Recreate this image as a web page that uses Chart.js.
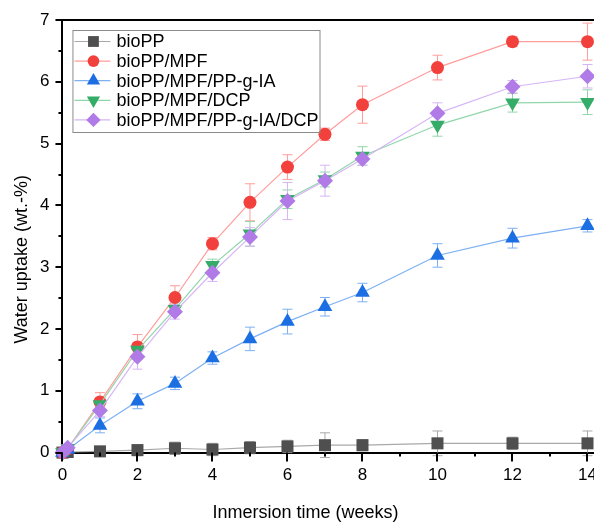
<!DOCTYPE html>
<html>
<head>
<meta charset="utf-8">
<script src="https://cdn.jsdelivr.net/npm/chart.js"></script>
<style>
  html, body { margin: 0; padding: 0; background: #fff; }
  #wrap { width: 594px; height: 522px; overflow: hidden; position: relative; }
  canvas { display: block; }
</style>
</head>
<body>
<div id="wrap"><canvas id="chart" width="640" height="522"></canvas></div>
<script>
// immersion time in weeks (second point = 1 day)
const weeks = [0, 0.14, 1, 2, 3, 4, 5, 6, 7, 8, 10, 12, 14];

const seriesNames = ['bioPP', 'bioPP/MPF', 'bioPP/MPF/PP-g-IA', 'bioPP/MPF/DCP', 'bioPP/MPF/PP-g-IA/DCP'];

const bioPP       = [0, 0.01, 0.02, 0.04, 0.07, 0.05, 0.08, 0.10, 0.12, 0.12, 0.15, 0.15, 0.15];
const bioPPErr    = [0, 0.03, 0.08, 0.09, 0.10, 0.10, 0.10, 0.10, 0.20, 0.09, 0.20, 0.10, 0.20];
const mpf         = [0, 0.06, 0.82, 1.71, 2.51, 3.38, 4.05, 4.62, 5.15, 5.63, 6.23, 6.65, 6.65];
const mpfErr      = [0, 0.05, 0.15, 0.20, 0.19, 0.10, 0.30, 0.20, 0.10, 0.30, 0.20, 0.08, 0.30];
const mpfIA       = [0, 0.05, 0.44, 0.83, 1.12, 1.53, 1.84, 2.12, 2.36, 2.59, 3.19, 3.47, 3.67];
const mpfIAErr    = [0, 0.05, 0.12, 0.12, 0.10, 0.10, 0.19, 0.20, 0.15, 0.15, 0.19, 0.16, 0.10];
const mpfDCP      = [0, 0.07, 0.78, 1.66, 2.32, 3.03, 3.54, 4.10, 4.42, 4.80, 5.30, 5.66, 5.67];
const mpfDCPErr   = [0, 0.05, 0.10, 0.10, 0.08, 0.10, 0.20, 0.15, 0.12, 0.15, 0.18, 0.15, 0.20];
const mpfIADCP    = [0, 0.08, 0.68, 1.55, 2.28, 2.91, 3.49, 4.07, 4.40, 4.75, 5.49, 5.92, 6.09];
const mpfIADCPErr = [0, 0.05, 0.10, 0.20, 0.12, 0.14, 0.15, 0.30, 0.25, 0.10, 0.17, 0.10, 0.19];

const values = [bioPP, mpf, mpfIA, mpfDCP, mpfIADCP];
const errors = [bioPPErr, mpfErr, mpfIAErr, mpfDCPErr, mpfIADCPErr];

// marker colour, line colour, point style, rotation, radius
const looks = [
  { fill: '#4f4f4f', line: '#a9a9a9', style: 'rect',     rot: 0,   r: 8.5 },
  { fill: '#f2403c', line: '#ff9d9b', style: 'circle',   rot: 0,   r: 6.5 },
  { fill: '#1b6fe3', line: '#7db0f2', style: 'triangle', rot: 0,   r: 8.5 },
  { fill: '#35ad69', line: '#90d6a9', style: 'triangle', rot: 180, r: 8.5 },
  { fill: '#b07be6', line: '#d6b5f6', style: 'rectRot',  rot: 0,   r: 8 }
];

const FONT = 'Liberation Sans, Arial, sans-serif';

const datasets = seriesNames.map((name, i) => ({
  label: name,
  data: weeks.map((w, k) => ({ x: w, y: values[i][k] })),
  errors: errors[i],
  borderColor: looks[i].line,
  backgroundColor: looks[i].fill,
  borderWidth: 1.2,
  pointStyle: looks[i].style,
  rotation: looks[i].rot,
  pointRadius: looks[i].r,
  pointBorderWidth: 0,
  pointBackgroundColor: looks[i].fill,
  pointBorderColor: looks[i].fill,
  tension: 0,
  clip: false,
  order: 5 - i
}));

// vertical error bars, drawn under the markers
const errorBars = {
  id: 'errorBars',
  beforeDatasetsDraw(chart) {
    const ctx = chart.ctx, ys = chart.scales.y;
    ctx.save();
    chart.data.datasets.forEach((ds, i) => {
      const meta = chart.getDatasetMeta(i);
      ctx.strokeStyle = ds.borderColor;
      ctx.lineWidth = 1;
      meta.data.forEach((pt, k) => {
        const e = ds.errors[k];
        if (!e) return;
        const v = ds.data[k].y;
        const top = ys.getPixelForValue(v + e), bot = ys.getPixelForValue(v - e);
        ctx.beginPath();
        ctx.moveTo(pt.x, top); ctx.lineTo(pt.x, bot);
        ctx.moveTo(pt.x - 5, top); ctx.lineTo(pt.x + 5, top);
        ctx.moveTo(pt.x - 5, bot); ctx.lineTo(pt.x + 5, bot);
        ctx.stroke();
      });
    });
    ctx.restore();
  }
};

function marker(ctx, look, x, y) {
  const r = look.r;
  ctx.fillStyle = look.fill;
  ctx.beginPath();
  if (look.style === 'rect') {
    const s = r * Math.SQRT1_2;
    ctx.rect(x - s, y - s, 2 * s, 2 * s);
  } else if (look.style === 'circle') {
    ctx.arc(x, y, r, 0, Math.PI * 2);
  } else if (look.style === 'rectRot') {
    ctx.moveTo(x, y - r); ctx.lineTo(x + r, y); ctx.lineTo(x, y + r); ctx.lineTo(x - r, y);
  } else {
    const d = look.rot ? -1 : 1, h = r * Math.sqrt(3) / 2;
    ctx.moveTo(x, y - d * r);
    ctx.lineTo(x + h, y + d * r / 2);
    ctx.lineTo(x - h, y + d * r / 2);
  }
  ctx.closePath();
  ctx.fill();
}

// frame, ticks, titles and the boxed legend
const frame = {
  id: 'frame',
  afterDraw(chart) {
    const ctx = chart.ctx, a = chart.chartArea;
    const xs = chart.scales.x, ys = chart.scales.y;
    ctx.save();
    ctx.strokeStyle = '#000';
    ctx.lineWidth = 2;
    ctx.beginPath();
    ctx.moveTo(a.left - 1, a.top); ctx.lineTo(a.right + 1, a.top);
    ctx.stroke();

    for (let v = 0; v <= 7; v += 0.5) {
      const py = Math.round(ys.getPixelForValue(v));
      const len = v % 1 === 0 ? 6 : 3;
      ctx.beginPath();
      ctx.moveTo(a.left - len - 1, py); ctx.lineTo(a.left, py);
      ctx.stroke();
    }
    for (let v = 0; v <= 15; v += 1) {
      const px = Math.round(xs.getPixelForValue(v));
      const len = v % 2 === 0 ? 8 : 3;
      ctx.beginPath();
      ctx.moveTo(px, a.bottom); ctx.lineTo(px, a.bottom + len + 1);
      ctx.stroke();
    }

    ctx.fillStyle = '#000';
    ctx.font = '18px ' + FONT;
    ctx.textAlign = 'center';
    ctx.textBaseline = 'middle';
    ctx.fillText('Inmersion time (weeks)', a.left + 243, a.bottom + 60);
    ctx.save();
    ctx.translate(22, (a.top + a.bottom) / 2 + 23);
    ctx.rotate(-Math.PI / 2);
    ctx.fillText('Water uptake (wt.-%)', 0, 0);
    ctx.restore();

    // legend
    const bx = a.left + 10, by = a.top + 10, rowH = 19.6;
    ctx.font = '18px ' + FONT;
    let tw = 0;
    seriesNames.forEach(n => { tw = Math.max(tw, ctx.measureText(n).width); });
    ctx.strokeStyle = '#8a8a8a';
    ctx.lineWidth = 1;
    ctx.strokeRect(bx + 0.5, by + 0.5, 44 + tw + 1, 102);
    ctx.textAlign = 'left';
    seriesNames.forEach((n, i) => {
      const cy = by + 11.5 + i * rowH;
      ctx.strokeStyle = looks[i].line;
      ctx.lineWidth = 1.2;
      ctx.beginPath();
      ctx.moveTo(bx + 2, cy); ctx.lineTo(bx + 38, cy);
      ctx.stroke();
      marker(ctx, Object.assign({}, looks[i], { r: looks[i].r * 0.9 }), bx + 21, cy);
      ctx.fillStyle = '#000';
      ctx.fillText(n, bx + 44, cy + 1);
    });
    ctx.restore();
  }
};

new Chart(document.getElementById('chart'), {
  type: 'line',
  data: { datasets },
  plugins: [errorBars, frame],
  options: {
    responsive: false,
    animation: false,
    devicePixelRatio: 1,
    layout: { padding: { left: 34, right: 15, top: 20, bottom: 30 } },
    plugins: { legend: { display: false }, tooltip: { enabled: false } },
    scales: {
      x: {
        type: 'linear',
        min: 0, max: 15,
        grid: { drawOnChartArea: false, tickLength: 7, tickColor: 'transparent' },
        border: { display: true, color: '#000', width: 2 },
        ticks: {
          stepSize: 2, includeBounds: false, padding: 6,
          color: '#000', font: { family: FONT, size: 17 }, maxRotation: 0
        }
      },
      y: {
        min: 0, max: 7,
        grid: { drawOnChartArea: false, tickLength: 7, tickColor: 'transparent' },
        border: { display: true, color: '#000', width: 2 },
        ticks: {
          stepSize: 1, includeBounds: false, padding: 6,
          color: '#000', font: { family: FONT, size: 17 }
        }
      }
    }
  }
});
</script>
</body>
</html>
